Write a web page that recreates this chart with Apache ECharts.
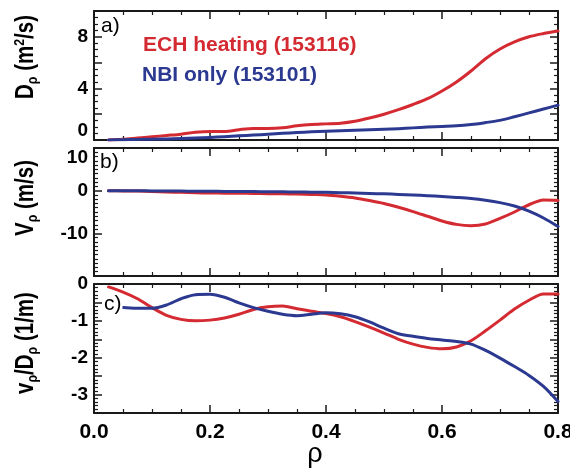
<!DOCTYPE html>
<html>
<head>
<meta charset="utf-8">
<script src="https://cdn.jsdelivr.net/npm/echarts@6/dist/echarts.min.js"></script>
<style>
  html, body { margin: 0; padding: 0; background: #fff; }
  #chart { width: 570px; height: 469px; }
</style>
</head>
<body>
<div id="chart"></div>
<script>
// Normalized radius grid shared by all profiles
const rho = [0.025, 0.05, 0.075, 0.1, 0.125, 0.15, 0.175, 0.2, 0.225, 0.25, 0.275, 0.3,
  0.325, 0.35, 0.375, 0.4, 0.425, 0.45, 0.475, 0.5, 0.525, 0.55, 0.575, 0.6,
  0.625, 0.65, 0.675, 0.7, 0.725, 0.75, 0.775, 0.8];

// a) particle diffusivity D_p (m^2/s)
const dpECH = [0.0, 0.05, 0.15, 0.25, 0.35, 0.45, 0.6, 0.66, 0.66, 0.8, 0.9, 0.9,
  0.95, 1.1, 1.2, 1.25, 1.3, 1.45, 1.7, 2.0, 2.35, 2.75, 3.2, 3.8,
  4.5, 5.35, 6.3, 7.05, 7.6, 8.0, 8.25, 8.45];
const dpNBI = [0.0, 0.02, 0.04, 0.06, 0.08, 0.11, 0.15, 0.2, 0.25, 0.32, 0.38, 0.45,
  0.52, 0.58, 0.63, 0.67, 0.72, 0.76, 0.8, 0.84, 0.88, 0.94, 1.0, 1.05,
  1.1, 1.2, 1.35, 1.52, 1.8, 2.1, 2.4, 2.7];

// b) pinch velocity V_p (m/s)
const vpECH = [0.0, -0.05, -0.1, -0.2, -0.3, -0.4, -0.5, -0.55, -0.58, -0.6, -0.65, -0.7,
  -0.75, -0.8, -0.9, -1.0, -1.3, -1.7, -2.3, -3.0, -3.9, -4.9, -6.0, -7.1,
  -7.9, -8.2, -7.8, -6.5, -5.0, -3.3, -2.2, -2.3];
const vpNBI = [0.0, 0.0, -0.02, -0.05, -0.08, -0.1, -0.12, -0.15, -0.18, -0.2, -0.22, -0.25,
  -0.28, -0.32, -0.36, -0.4, -0.47, -0.55, -0.65, -0.75, -0.87, -1.0, -1.17, -1.35,
  -1.58, -1.85, -2.25, -2.8, -3.6, -4.8, -6.4, -8.4];

// c) ratio v_p/D_p (1/m)
const ratioECH = [-0.08, -0.22, -0.4, -0.64, -0.85, -0.96, -1.0, -0.98, -0.92, -0.82, -0.69, -0.62,
  -0.6, -0.67, -0.74, -0.8, -0.89, -1.02, -1.17, -1.33, -1.5, -1.63, -1.72, -1.76,
  -1.71, -1.54, -1.27, -0.98, -0.68, -0.44, -0.27, -0.27];
const ratioNBI = [-0.64, -0.64, -0.66, -0.66, -0.57, -0.4, -0.29, -0.28, -0.36, -0.51, -0.64, -0.74,
  -0.82, -0.86, -0.82, -0.78, -0.81, -0.89, -1.03, -1.2, -1.35, -1.42, -1.48, -1.52,
  -1.56, -1.63, -1.8, -2.01, -2.24, -2.48, -2.78, -3.19];

// Axis settings
const xTickLabels = ['0.0', '0.2', '0.4', '0.6', '0.8'];
const dpLabels = [0, 4, 8];
const vpLabels = [10, 0, -10];
const ratioLabels = [0, -1, -2, -3];

const RED = '#d42a31';
const BLUE = '#2b3990';
const AXIS = '#1a1a1a';
const BOLD = "'Liberation Sans', Arial, sans-serif";

const pairs = (ys) => rho.map((r, i) => [r, ys[i]]);

const grids = [
  { left: 94, width: 464, top: 11, height: 129 },
  { left: 94, width: 464, top: 148, height: 128 },
  { left: 94, width: 464, top: 284, height: 129 }
].map(g => Object.assign({ outerBoundsMode: 'none', containLabel: false }, g));

function xAxis(gridIndex, position, labels) {
  return {
    type: 'value', gridIndex, position,
    min: 0, max: 0.8, interval: 0.2,
    axisLine: { show: true, onZero: false, lineStyle: { color: AXIS, width: 2 } },
    axisTick: { show: true, inside: true, length: 8, lineStyle: { color: AXIS, width: 1.5 } },
    minorTick: { show: true, splitNumber: 4, length: 4, lineStyle: { color: AXIS, width: 1.2 } },
    splitLine: { show: false },
    axisLabel: {
      show: labels, margin: 9, color: '#000', fontFamily: BOLD, fontWeight: 'bold', fontSize: 21,
      showMinLabel: true, showMaxLabel: true, hideOverlap: false,
      formatter: v => {
        const s = v.toFixed(1);
        return xTickLabels.includes(s) ? s : '';
      }
    }
  };
}

function yAxis(gridIndex, position, min, max, interval, minorSplit, shown, extraLabel) {
  return {
    type: 'value', gridIndex, position,
    min, max, interval,
    axisLine: { show: true, onZero: false, lineStyle: { color: AXIS, width: 2 } },
    axisTick: { show: true, inside: true, length: 8, lineStyle: { color: AXIS, width: 1.5 } },
    minorTick: { show: true, splitNumber: minorSplit, length: 4, lineStyle: { color: AXIS, width: 1.2 } },
    splitLine: { show: false },
    axisLabel: Object.assign({
      show: position === 'left', margin: 6, color: '#000', fontFamily: BOLD, fontWeight: 'bold', fontSize: 19,
      showMinLabel: true, showMaxLabel: true, hideOverlap: false,
      formatter: v => {
        const r = Math.round(v * 100) / 100;
        return shown.includes(r) ? String(r) : '';
      }
    }, extraLabel || {})
  };
}

function line(name, xi, yi, ys, color) {
  return {
    name, type: 'line', xAxisIndex: xi, yAxisIndex: yi,
    data: pairs(ys), showSymbol: false, smooth: 0.3,
    lineStyle: { color, width: 3, cap: 'round', join: 'round' }, itemStyle: { color },
    silent: true, animation: false
  };
}

const titleRich = {
  m: { fontFamily: BOLD, fontWeight: 'bold', fontSize: 25, fill: '#000', lineHeight: 28 },
  s: { fontFamily: BOLD, fontWeight: 'bold', fontSize: 15, fill: '#000', padding: [14, 0, 0, 0] },
  p: { fontFamily: BOLD, fontWeight: 'bold', fontSize: 15, fill: '#000', padding: [0, 0, 12, 0] }
};

function yTitle(x, y, text) {
  return {
    type: 'text', x, y, rotation: Math.PI / 2, scaleX: 0.82,
    style: { text, rich: titleRich, align: 'center', verticalAlign: 'middle' }
  };
}

function panelTag(x, y, text, bg) {
  return {
    type: 'text', x, y, z: 100,
    style: Object.assign({
      text, fontFamily: "'Liberation Sans', Arial, sans-serif", fontSize: 21, fill: '#000',
      align: 'left', verticalAlign: 'top'
    }, bg ? { backgroundColor: '#fff', padding: [0, 1, 0, 1] } : {})
  };
}

const chart = echarts.init(document.getElementById('chart'), null, { renderer: 'canvas' });
chart.setOption({
  animation: false,
  backgroundColor: '#fff',
  grid: grids,
  xAxis: [
    xAxis(0, 'bottom', false), xAxis(0, 'top', false),
    xAxis(1, 'bottom', false), xAxis(1, 'top', false),
    xAxis(2, 'bottom', true), xAxis(2, 'top', false)
  ],
  yAxis: [
    yAxis(0, 'left', 0, 10, 2, 4, dpLabels, { verticalAlignMinLabel: 'bottom' }),
    yAxis(0, 'right', 0, 10, 2, 4, dpLabels),
    yAxis(1, 'left', -20, 10, 10, 10, vpLabels, { verticalAlignMaxLabel: 'top' }),
    yAxis(1, 'right', -20, 10, 10, 10, vpLabels),
    yAxis(2, 'left', -3.5, 0, 0.5, 5, ratioLabels),
    yAxis(2, 'right', -3.5, 0, 0.5, 5, ratioLabels)
  ],
  series: [
    line('ECH heating (153116)', 0, 0, dpECH, RED),
    line('NBI only (153101)', 0, 0, dpNBI, BLUE),
    line('ECH heating (153116)', 2, 2, vpECH, RED),
    line('NBI only (153101)', 2, 2, vpNBI, BLUE),
    line('ECH heating (153116)', 4, 4, ratioECH, RED),
    line('NBI only (153101)', 4, 4, ratioNBI, BLUE)
  ],
  graphic: [
    yTitle(26, 57, '{m|D}{s|ρ}{m| (m}{p|2}{m|/s)}'),
    yTitle(26, 198, '{m|V}{s|ρ}{m| (m/s)}'),
    yTitle(26, 343, '{m|v}{s|ρ}{m|/D}{s|ρ}{m| (1/m)}'),
    panelTag(101, 16, 'a)'),
    panelTag(100, 152, 'b)'),
    panelTag(103, 294, 'c)', true),
    {
      type: 'text', x: 143, y: 45,
      style: { text: 'ECH heating (153116)', fontFamily: BOLD, fontWeight: 'bold', fontSize: 21,
        fill: RED, align: 'left', verticalAlign: 'middle' }
    },
    {
      type: 'text', x: 142, y: 75,
      style: { text: 'NBI only (153101)', fontFamily: BOLD, fontWeight: 'bold', fontSize: 21,
        fill: BLUE, align: 'left', verticalAlign: 'middle' }
    },
    {
      type: 'text', x: 315, y: 455,
      style: { text: 'ρ', fontFamily: "'Liberation Sans', Arial, sans-serif", fontSize: 27,
        fill: '#000', align: 'center', verticalAlign: 'middle' }
    }
  ]
});
</script>
</body>
</html>
